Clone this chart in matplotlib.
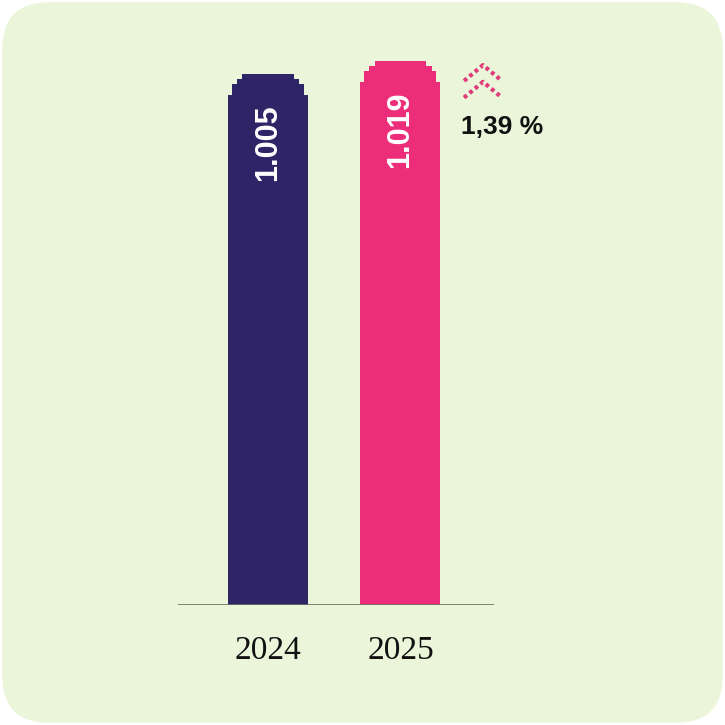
import matplotlib
matplotlib.use("Agg")
import matplotlib.pyplot as plt
from matplotlib.patches import FancyBboxPatch

years = ["2024", "2025"]
values = [1005, 1019]
labels = ["1.005", "1.019"]
change_label = "1,39 %"
colors = ["#2e2466", "#ec2d7a"]
bg = "#ebf5da"

fig = plt.figure(figsize=(7.25, 7.25), dpi=100)
fig.patch.set_facecolor("white")
fig.patches.append(FancyBboxPatch((0.003, 0.003), 0.994, 0.994,
                                  boxstyle="round,pad=0,rounding_size=0.065",
                                  transform=fig.transFigure, facecolor=bg,
                                  edgecolor="none", zorder=-5))

# axes spans pixel x 178..494, y 40..605
ax = fig.add_axes([178 / 725, 1 - 605 / 725, 316 / 725, 565 / 725])
ax.set_facecolor("none")
ax.set_xlim(-0.679, 1.706)
ax.set_ylim(434, 1042)

width = 0.604
x = list(range(len(values)))
# stepped rounded top: (height in value units, inset as fraction of width)
cap = [(11, 0.05), (5.5, 0.11), (5.5, 0.18)]
cap_h = sum(h for h, _ in cap)

for i, v in enumerate(values):
    ax.bar(x[i], v - cap_h - 434, bottom=434, width=width, color=colors[i], zorder=2)
    b = v - cap_h
    for h, inset in cap:
        ax.bar(x[i], h + 0.3, bottom=b, width=width * (1 - 2 * inset), color=colors[i], zorder=2)
        b += h
    ax.text(x[i], v - 32, labels[i], rotation=90, ha="center", va="top",
            color="white", fontsize=22, fontweight="bold", family="Liberation Sans", zorder=3)

ax.axhline(434, color="#6f7262", lw=1.2, zorder=3)

ax.set_xticks(x)
ax.set_xticklabels(years, family="Liberation Serif", fontsize=24, color="#111111")
ax.tick_params(axis="x", length=0, pad=22)
ax.set_yticks([])
for s in ax.spines.values():
    s.set_visible(False)

# change indicator: double chevron of dots + percentage
for top, low in ((1015, 998), (997, 980)):
    ax.plot([1.480, 1.623, 1.766], [low, top, low], color="#e03a78", lw=3,
            ls=(0, (0.9, 0.8)), dash_capstyle="butt", clip_on=False, zorder=3)
ax.text(1.457, 948, change_label, ha="left", va="center", fontsize=19,
        fontweight="bold", family="Liberation Sans", color="#111111")

fig.savefig("out.png", dpi=100, facecolor=fig.get_facecolor())
